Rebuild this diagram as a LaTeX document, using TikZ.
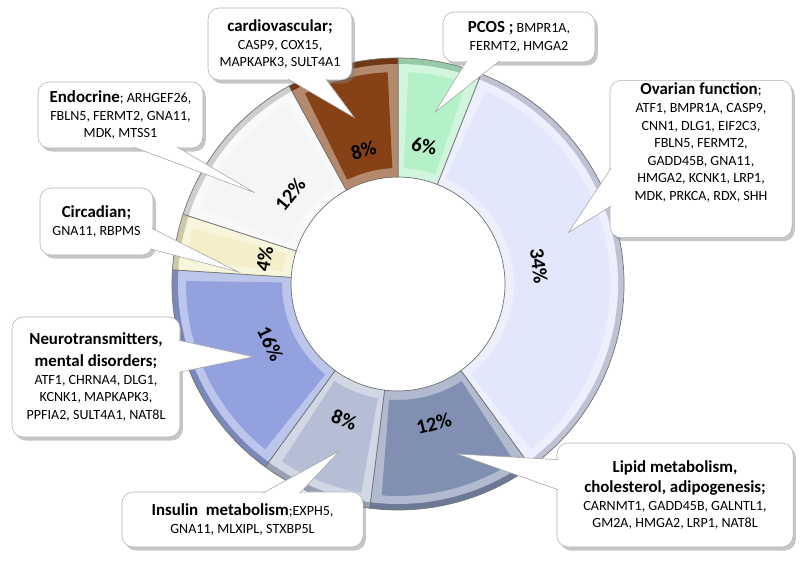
\documentclass[tikz,border=0pt]{standalone}
\usepackage{fontspec}
\setmainfont{Carlito}
\usepackage{tikz}
\usetikzlibrary{calc}
\usetikzlibrary{shadows}
\definecolor{pcosgreen}{RGB}{180,241,200}
\definecolor{ovarylav}{RGB}{226,231,251}
\definecolor{lipidslate}{RGB}{129,143,178}
\definecolor{insulingrey}{RGB}{182,190,214}
\definecolor{neuroblue}{RGB}{147,162,222}
\definecolor{circcream}{RGB}{244,239,200}
\definecolor{endowhite}{RGB}{245,245,245}
\definecolor{cardiobrown}{RGB}{134,66,22}
\tikzstyle{callout} = [rectangle, draw=black!30, fill=white, rounded corners=8pt, align=center, inner sep=2pt, font=\fontsize{10}{12.5}\selectfont, drop shadow={opacity=0.45, shadow xshift=2pt, shadow yshift=-2.5pt}]
\tikzstyle{pointer} = [draw=black!35, line join=miter]
\tikzstyle{pct} = [font=\fontsize{14.5}{16}\selectfont\bfseries, inner sep=0pt]
\newcommand{\hd}[1]{{\fontsize{12}{14}\selectfont\bfseries #1}}
% one slice of the ring: from, to, colour
\newcommand{\slice}[3]{%
  \fill[#3!84!black] (#1:226) arc[start angle=#1, end angle=#2, radius=226] -- (#2:107) arc[start angle=#2, end angle=#1, radius=107] -- cycle;
  \fill[#3!62!white] (#1:220) arc[start angle=#1, end angle=#2, radius=220] -- (#2:107) arc[start angle=#2, end angle=#1, radius=107] -- cycle;
  \fill[#3] (#1-2.8:212) arc[start angle=#1-2.8, end angle=#2+2.8, radius=212] -- (#2+2.8:116) arc[start angle=#2+2.8, end angle=#1-2.8, radius=116] -- cycle;
  \draw[black!55, line width=0.5pt] (#1:226) arc[start angle=#1, end angle=#2, radius=226] -- (#2:107) arc[start angle=#2, end angle=#1, radius=107] -- cycle;}
% pointer of a callout: base, base, tip
\newcommand{\tail}[3]{%
  \fill[white] (#1) -- (#3) -- (#2) -- cycle;
  \draw[pointer] (#1) -- (#3) -- (#2);}

\begin{document}
\begin{tikzpicture}[x=0.025cm, y=0.025cm]
  \useasboundingbox (0,0) rectangle (800,566);
  \begin{scope}[shift={(398,282)}]
    % Ring
    \slice{90}{68.4}{pcosgreen}
    \slice{68.4}{-54}{ovarylav}
    \slice{-54}{-97.2}{lipidslate}
    \slice{-97.2}{-126}{insulingrey}
    \slice{-126}{-183.6}{neuroblue}
    \slice{-183.6}{-198}{circcream}
    \slice{-198}{-241.2}{endowhite}
    \slice{-241.2}{-270}{cardiobrown}
    % Percentages
    \node[pct, rotate=-10.8] (p-pcos) at (79.2:140) {6\%};
    \node[pct, rotate=-82.8] (p-ovary) at (7.2:142) {34\%};
    \node[pct, rotate=14.4] (p-lipid) at (-75.6:144) {12\%};
    \node[pct, rotate=-21.6] (p-insulin) at (-111.6:146) {8\%};
    \node[pct, rotate=-64.8] (p-neuro) at (-154.8:141) {16\%};
    \node[pct, rotate=79.2] (p-circ) at (169.2:136) {4\%};
    \node[pct, rotate=50.4] (p-endo) at (140.4:140) {12\%};
    \node[pct, rotate=14.4] (p-cardio) at (104.4:138) {8\%};
    % Pointer tips
    \coordinate (t-cardio) at (104.7:172);
    \coordinate (t-pcos) at (77.8:176);
    \coordinate (t-ovary) at (16.8:178);
    \coordinate (t-endo) at (147.5:170);
    \coordinate (t-circ) at (175.7:160);
    \coordinate (t-neuro) at (206.7:162);
    \coordinate (t-insulin) at (250.7:177);
    \coordinate (t-lipid) at (-70.8:180);
  \end{scope}
  % Place nodes
  \node[callout, minimum width=3.6cm, minimum height=1.8cm] (cardio) at (280,522) {\hd{cardiovascular;}\\CASP9, COX15,\\MAPKAPK3, SULT4A1};
  \node[callout, minimum width=3.8cm, minimum height=1.25cm] (pcos) at (519,529) {\hd{PCOS ;} BMPR1A,\\FERMT2, HMGA2};
  \node[callout, minimum width=4.55cm, minimum height=3.9cm] (ovary) at (701,407) {\hd{Ovarian function};\\ATF1, BMPR1A, CASP9,\\CNN1, DLG1, EIF2C3,\\FBLN5, FERMT2,\\GADD45B, GNA11,\\HMGA2, KCNK1, LRP1,\\MDK, PRKCA, RDX, SHH\\[12pt]\mbox{}};
  \node[callout, minimum width=4.125cm, minimum height=1.65cm] (endo) at (120.5,451) {\hd{Endocrine}; ARHGEF26,\\FBLN5, FERMT2, GNA11,\\MDK, MTSS1};
  \node[callout, minimum width=2.825cm, minimum height=1.675cm] (circ) at (96.5,344.5) {\hd{Circadian;}\\GNA11, RBPMS};
  \node[callout, minimum width=4.2cm, minimum height=3cm] (neuro) at (96,189) {\hd{Neurotransmitters,}\\[3pt]\hd{mental disorders;}\\ATF1, CHRNA4, DLG1,\\KCNK1, MAPKAPK3,\\PPFIA2, SULT4A1, NAT8L};
  \node[callout, minimum width=6.025cm, minimum height=1.375cm] (insulin) at (242.5,46.5) {\hd{Insulin~~metabolism};EXPH5,\\GNA11, MLXIPL, STXBP5L};
  \node[callout, minimum width=5.9cm, minimum height=2.6cm] (lipid) at (675,71) {\hd{Lipid metabolism,}\\[2pt]\hd{cholesterol, adipogenesis;}\\CARNMT1, GADD45B, GALNTL1,\\GM2A, HMGA2, LRP1, NAT8L};
  % Draw edges
  \tail{$(cardio.south west)+(80,1.5)$}{$(cardio.south west)+(118,1.5)$}{t-cardio}
  \tail{$(pcos.south west)+(24,1.5)$}{$(pcos.south west)+(57,1.5)$}{t-pcos}
  \tail{$(ovary.south west)+(1.5,70)$}{$(ovary.south west)+(1.5,32)$}{t-ovary}
  \tail{$(endo.south west)+(95,1.5)$}{$(endo.south west)+(139,1.5)$}{t-endo}
  \tail{$(circ.south east)+(-1.5,27)$}{$(circ.south east)+(-1.5,6)$}{t-circ}
  \tail{$(neuro.south east)+(-1.5,97)$}{$(neuro.south east)+(-1.5,65)$}{t-neuro}
  \tail{$(insulin.north west)+(141,-1.5)$}{$(insulin.north west)+(178,-1.5)$}{t-insulin}
  \tail{$(lipid.north west)+(1.5,-17)$}{$(lipid.north west)+(1.5,-47)$}{t-lipid}
\end{tikzpicture}
\end{document}
